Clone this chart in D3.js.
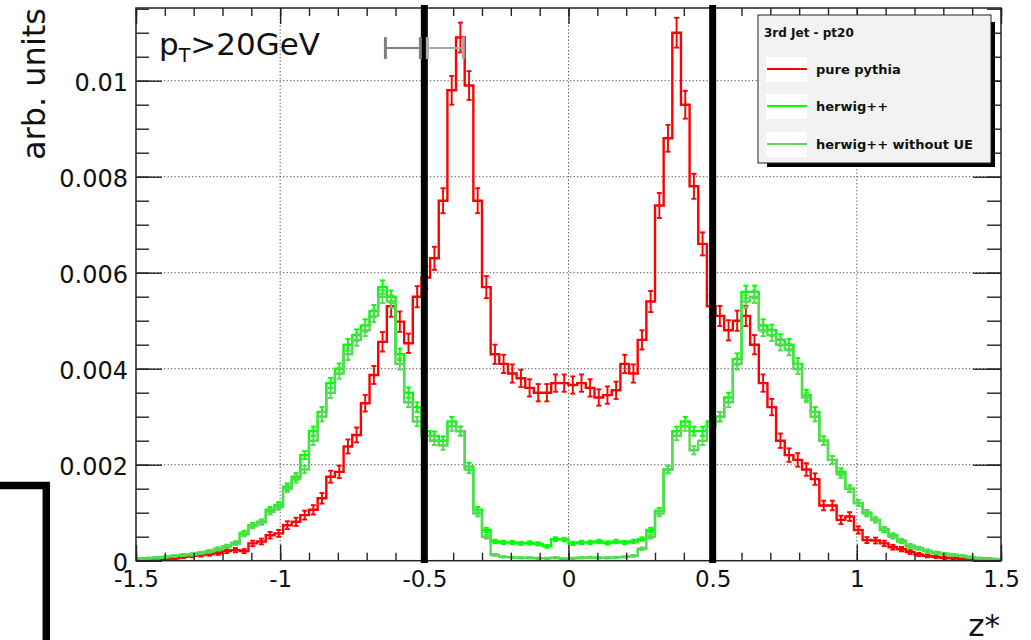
<!DOCTYPE html>
<meta charset="utf-8">
<script src="https://d3js.org/d3.v7.min.js"></script>
<style>
  body { margin: 0; background: #fff; }
  svg { display: block; font-family: "DejaVu Sans", sans-serif; }
</style>
<div id="my_dataviz"></div>
<script>

// binning of the z* histograms: 100 bins of 0.03 from -1.5 to 1.5
var binLow = -1.5, binWidth = 0.03, nBins = 100;

// pure pythia (red)
var pythia = [
  0.00002,0.00002,0.00003,0.00003,0.00005,0.00008,0.0001,0.00012,0.00014,0.00016,
  0.0002,0.00022,0.0002,0.00036,0.0004,0.00053,0.00057,0.00074,0.00081,0.00095,
  0.00106,0.0013,0.00175,0.00185,0.00238,0.00262,0.00328,0.00387,0.00456,0.0053,
  0.00498,0.00453,0.0055,0.0059,0.0063,0.0075,0.0098,0.0109,0.0099,0.0075,
  0.0057,0.0043,0.0041,0.0039,0.0038,0.0036,0.0035,0.0035,0.0037,0.0037,
  0.00366,0.0037,0.0036,0.0034,0.00345,0.00355,0.0041,0.0039,0.0046,0.0054,
  0.0074,0.0088,0.011,0.0095,0.0078,0.0066,0.0053,0.0051,0.0048,0.005,
  0.0051,0.0045,0.0037,0.0032,0.0025,0.0022,0.0021,0.0019,0.0017,0.00115,
  0.00115,0.00085,0.00092,0.00064,0.00043,0.00042,0.00036,0.00028,0.00024,0.00018,
  0.00013,0.0001,0.00008,0.00006,0.00005,0.00004,0.00003,0.00003,0.00002,0.00002];
var pythiaErr = [
  0.000013,0.000013,0.000016,0.000016,0.000021,0.000027,0.00003,0.000033,0.000035,0.000038,
  0.000042,0.000044,0.000042,0.000057,0.00006,0.000069,0.000072,0.000082,0.000085,0.000092,
  0.000098,0.00011,0.000125,0.00013,0.000146,0.000154,0.000172,0.000187,0.000203,0.000218,
  0.000212,0.000202,0.00022,0.00023,0.00024,0.00026,0.0003,0.00031,0.0003,0.00026,
  0.00023,0.0002,0.00019,0.00019,0.00018,0.00018,0.00018,0.00018,0.00018,0.00018,
  0.00018,0.00018,0.00018,0.00017,0.00018,0.00018,0.00019,0.00019,0.0002,0.00022,
  0.00026,0.00028,0.00031,0.00029,0.00026,0.00024,0.00022,0.00021,0.00021,0.00021,
  0.00021,0.0002,0.00018,0.00017,0.00015,0.00014,0.00014,0.00013,0.00012,0.0001,
  0.0001,0.000088,0.000091,0.000076,0.000062,0.000061,0.000057,0.00005,0.000046,0.00004,
  0.000034,0.00003,0.000027,0.000023,0.000021,0.000019,0.000016,0.000016,0.000013,0.000013];

// herwig++ (bright green)
var herwig = [
  0.00004,0.00005,0.00006,0.00008,0.0001,0.00012,0.00013,0.00016,0.00019,0.00025,
  0.0003,0.00037,0.00058,0.00074,0.00081,0.00106,0.00116,0.00154,0.00175,0.0022,
  0.0027,0.0031,0.0037,0.004,0.0045,0.0047,0.0049,0.0052,0.0057,0.0055,
  0.0043,0.0035,0.0032,0.0027,0.0026,0.0025,0.0029,0.0027,0.00196,0.00106,
  0.00064,0.0004,0.00038,0.00038,0.00036,0.00037,0.00035,0.0003,0.00045,0.00044,
  0.00036,0.00038,0.00038,0.0004,0.00037,0.0004,0.00038,0.0004,0.00045,0.00064,
  0.00104,0.0019,0.0027,0.0029,0.0027,0.0027,0.0029,0.003,0.0034,0.0042,
  0.0056,0.0056,0.0049,0.0048,0.0046,0.0045,0.0041,0.00345,0.0031,0.0025,
  0.0021,0.00185,0.0015,0.0012,0.001,0.00085,0.00064,0.00053,0.0004,0.0003,
  0.00026,0.0002,0.00016,0.00014,0.00012,0.0001,0.00007,0.00005,0.00004,0.00003];
var herwigErr = [
  0.000011,0.000013,0.000014,0.000016,0.000018,0.00002,0.000021,0.000023,0.000025,0.000028,
  0.000031,0.000035,0.000043,0.000049,0.000051,0.000059,0.000061,0.000071,0.000075,0.000084,
  0.000094,0.0001,0.00011,0.00011,0.00012,0.00012,0.00013,0.00013,0.00014,0.00013,
  0.00012,0.00011,0.0001,0.000095,0.000092,0.00009,0.000097,0.000094,0.00008,0.000059,
  0.000046,0.000036,0.000035,0.000035,0.000034,0.000035,0.000034,0.000031,0.000038,0.000038,
  0.000034,0.000035,0.000035,0.000036,0.000035,0.000036,0.000035,0.000036,0.000038,0.000046,
  0.000058,0.000078,0.000094,0.000097,0.000094,0.000094,0.000097,0.000099,0.0001,0.00012,
  0.00013,0.00013,0.00013,0.00012,0.00012,0.00012,0.00012,0.00011,0.0001,0.00009,
  0.000083,0.000077,0.00007,0.000062,0.000057,0.000052,0.000046,0.000041,0.000036,0.000031,
  0.000029,0.000025,0.000023,0.000021,0.00002,0.000018,0.000015,0.000013,0.000011,0.00001];

// herwig++ without UE (light green)
var noUE = [
  0.00004,0.00005,0.00006,0.00008,0.0001,0.00012,0.00013,0.00016,0.0002,0.00024,
  0.0003,0.00036,0.00055,0.00072,0.0008,0.00102,0.00112,0.0015,0.0017,0.0019,
  0.0025,0.003,0.0035,0.0039,0.0043,0.0046,0.0048,0.0051,0.0055,0.0054,
  0.0041,0.0033,0.0029,0.0026,0.0025,0.0024,0.0028,0.0027,0.0019,0.00098,
  0.0005,0.00012,0.00008,0.00007,0.00006,0.00006,0.00005,0.00005,0.00006,0.00004,
  0.00005,0.00006,0.00007,0.00006,0.00006,0.00007,0.00008,0.0001,0.00025,0.0005,
  0.00098,0.0019,0.0026,0.0028,0.0023,0.0025,0.0028,0.003,0.0033,0.0041,
  0.0054,0.0055,0.0048,0.0047,0.0045,0.0044,0.004,0.0034,0.003,0.0025,
  0.0021,0.0018,0.0015,0.0012,0.00098,0.00085,0.00066,0.0005,0.00042,0.00032,
  0.00026,0.00021,0.00017,0.00014,0.00012,0.0001,0.00007,0.00005,0.00004,0.00003];
var noUEErr = [
  0.000011,0.000013,0.000014,0.000016,0.000018,0.00002,0.000021,0.000023,0.000025,0.000028,
  0.000031,0.000034,0.000042,0.000048,0.000051,0.000057,0.00006,0.00007,0.000074,0.000078,
  0.00009,0.000099,0.00011,0.00011,0.00012,0.00012,0.00012,0.00013,0.00013,0.00013,
  0.00012,0.0001,0.000097,0.000092,0.00009,0.000088,0.000095,0.000094,0.000078,0.000056,
  0.00004,0.00002,0.000016,0.000015,0.000014,0.000014,0.000013,0.000013,0.000014,0.000012,
  0.000013,0.000014,0.000015,0.000014,0.000014,0.000015,0.000016,0.000018,0.000028,0.00004,
  0.000056,0.000078,0.000092,0.000095,0.000086,0.00009,0.000095,0.000099,0.0001,0.00012,
  0.00013,0.00013,0.00012,0.00012,0.00012,0.00012,0.00011,0.0001,0.000099,0.00009,
  0.000082,0.000076,0.00007,0.000062,0.000056,0.000052,0.000046,0.00004,0.000037,0.000032,
  0.000029,0.000026,0.000023,0.000021,0.00002,0.000018,0.000015,0.000013,0.000011,0.00001];

var seriesNames = ["pure pythia", "herwig++", "herwig++ without UE"];
var seriesColors = ["#ff0000", "#00ff00", "#55d955"];
var legendTitle = "3rd Jet - pt20";

// axis ticks
var xMajor = [-1.5, -1, -0.5, 0, 0.5, 1, 1.5];
var xGrid = [-1, -0.5, 0, 0.5, 1];
var yMajor = [0, 0.002, 0.004, 0.006, 0.008, 0.01];
var yGrid = [0.002, 0.004, 0.006, 0.008, 0.01];

// cut lines at |z*| = 0.5 and the grey resolution marker
var cuts = [-0.5, 0.5];
var markerX = -0.5, markerHalf = 0.135, markerY = 0.01068;

var W = 1031, H = 640;
var X0 = 136, X1 = 1001, Y0 = 560.7, Y1 = 8;

var svg = d3.select("#my_dataviz").append("svg")
  .attr("width", W).attr("height", H);

var x = d3.scaleLinear().domain([-1.5, 1.5]).range([X0, X1]);
var y = d3.scaleLinear().domain([0, 0.011515]).range([Y0, Y1]);

var edges = d3.range(nBins + 1).map(function(i) { return +(binLow + i * binWidth).toFixed(3); });

// grid
svg.append("g").selectAll("line").data(xGrid).enter().append("line")
  .attr("x1", function(d) { return x(d); }).attr("x2", function(d) { return x(d); })
  .attr("y1", Y1).attr("y2", Y0)
  .attr("stroke", "#555").attr("stroke-width", 1).attr("stroke-dasharray", "1.3,2.2");
svg.append("g").selectAll("line").data(yGrid).enter().append("line")
  .attr("x1", X0).attr("x2", X1)
  .attr("y1", function(d) { return y(d); }).attr("y2", function(d) { return y(d); })
  .attr("stroke", "#555").attr("stroke-width", 1).attr("stroke-dasharray", "1.3,2.2");

// histograms
var step = d3.line().x(function(d) { return x(d[0]); }).y(function(d) { return y(d[1]); })
  .curve(d3.curveStepAfter);

function drawHist(vals, errs, color) {
  var pts = vals.map(function(v, i) { return [edges[i], v]; });
  pts.push([edges[nBins], vals[nBins - 1]]);
  var g = svg.append("g");
  g.append("path").attr("d", step(pts))
    .attr("fill", "none").attr("stroke", color).attr("stroke-width", 2.4);
  var eb = g.selectAll("g").data(vals).enter().append("g")
    .attr("stroke", color).attr("stroke-width", 1.9);
  eb.each(function(v, i) {
    var cx = x(edges[i] + binWidth / 2);
    var lo = y(Math.max(v - errs[i], 0)), hi = y(v + errs[i]);
    var s = d3.select(this);
    s.append("line").attr("x1", cx).attr("x2", cx).attr("y1", lo).attr("y2", hi);
    s.append("line").attr("x1", cx - 2.5).attr("x2", cx + 2.5).attr("y1", lo).attr("y2", lo);
    s.append("line").attr("x1", cx - 2.5).attr("x2", cx + 2.5).attr("y1", hi).attr("y2", hi);
  });
}
drawHist(pythia, pythiaErr, seriesColors[0]);
drawHist(herwig, herwigErr, seriesColors[1]);
drawHist(noUE, noUEErr, seriesColors[2]);

// axes: ticks inside on all four sides
function styleAxis(g) {
  g.select(".domain").remove();
  g.selectAll("line").attr("stroke", "#222").attr("stroke-width", 1.4);
  g.selectAll("text").attr("fill", "#111").attr("font-family", "DejaVu Sans");
}
var xMinor = d3.range(31).map(function(i) { return +(-1.5 + i * 0.1).toFixed(1); });
var yMinor = d3.range(24).map(function(i) { return +(i * 0.0005).toFixed(4); });

svg.append("g").attr("transform", "translate(0," + Y0 + ")")
  .call(d3.axisBottom(x).tickValues(xMinor).tickSizeInner(-8).tickSizeOuter(0).tickFormat(""))
  .call(styleAxis);
svg.append("g").attr("transform", "translate(0," + Y0 + ")")
  .call(d3.axisBottom(x).tickValues(xMajor).tickSizeInner(-16).tickSizeOuter(0).tickPadding(10)
    .tickFormat(function(d) { return String(d); }))
  .call(styleAxis)
  .selectAll("text").attr("font-size", 23);
svg.append("g").attr("transform", "translate(0," + Y1 + ")")
  .call(d3.axisTop(x).tickValues(xMinor).tickSizeInner(-8).tickSizeOuter(0).tickFormat(""))
  .call(styleAxis);
svg.append("g").attr("transform", "translate(0," + Y1 + ")")
  .call(d3.axisTop(x).tickValues(xMajor).tickSizeInner(-16).tickSizeOuter(0).tickFormat(""))
  .call(styleAxis);

svg.append("g").attr("transform", "translate(" + X0 + ",0)")
  .call(d3.axisLeft(y).tickValues(yMinor).tickSizeInner(-13).tickSizeOuter(0).tickFormat(""))
  .call(styleAxis);
svg.append("g").attr("transform", "translate(" + X0 + ",0)")
  .call(d3.axisLeft(y).tickValues(yMajor).tickSizeInner(-26).tickSizeOuter(0).tickPadding(8)
    .tickFormat(function(d) { return String(+d.toFixed(3)); }))
  .call(styleAxis)
  .selectAll("text").attr("font-size", 24).attr("dy", "0.4em");
svg.append("g").attr("transform", "translate(" + X1 + ",0)")
  .call(d3.axisRight(y).tickValues(yMinor).tickSizeInner(-14).tickSizeOuter(0).tickFormat(""))
  .call(styleAxis);
svg.append("g").attr("transform", "translate(" + X1 + ",0)")
  .call(d3.axisRight(y).tickValues(yMajor).tickSizeInner(-28).tickSizeOuter(0).tickFormat(""))
  .call(styleAxis);

// frame
svg.append("rect").attr("x", X0).attr("y", Y1).attr("width", X1 - X0).attr("height", Y0 - Y1)
  .attr("fill", "none").attr("stroke", "#222").attr("stroke-width", 1.5);

// thick cut lines
svg.append("g").selectAll("line").data(cuts).enter().append("line")
  .attr("x1", function(d) { return x(d); }).attr("x2", function(d) { return x(d); })
  .attr("y1", 5).attr("y2", 563)
  .attr("stroke", "#000").attr("stroke-width", 7);

// grey horizontal error marker
var mk = svg.append("g").attr("stroke-width", 2);
var mL = x(markerX - markerHalf), mC = x(markerX), mR = x(markerX + markerHalf), mY = y(markerY);
[[mL, mC - 4, "#7f7f7f"], [mC + 3, mR, "#a9a9a9"]].forEach(function(s) {
  mk.append("line").attr("x1", s[0]).attr("x2", s[1]).attr("y1", mY).attr("y2", mY).attr("stroke", s[2]);
  [s[0], s[1]].forEach(function(px) {
    mk.append("line").attr("x1", px).attr("x2", px).attr("y1", mY - 11).attr("y2", mY + 11)
      .attr("stroke", s[2]).attr("stroke-width", 3);
  });
});

// legend
var lg = svg.append("g");
lg.append("rect").attr("x", 767).attr("y", 163).attr("width", 228).attr("height", 4).attr("fill", "#000");
lg.append("rect").attr("x", 991).attr("y", 22).attr("width", 4).attr("height", 145).attr("fill", "#000");
lg.append("rect").attr("x", 758).attr("y", 15).attr("width", 233).attr("height", 148)
  .attr("fill", "#f2f2f2").attr("stroke", "#222").attr("stroke-width", 1);
lg.append("text").attr("x", 764).attr("y", 37).attr("font-size", 12).attr("font-weight", "bold")
  .attr("fill", "#111").text(legendTitle);
var entryY = [69, 106, 144];
seriesNames.forEach(function(name, i) {
  lg.append("rect").attr("x", 766).attr("y", entryY[i] - 12).attr("width", 41).attr("height", 25).attr("fill", "#fff");
  lg.append("line").attr("x1", 767).attr("x2", 807).attr("y1", entryY[i]).attr("y2", entryY[i])
    .attr("stroke", seriesColors[i]).attr("stroke-width", 2);
  lg.append("text").attr("x", 816).attr("y", entryY[i] + 5).attr("font-size", 13).attr("font-weight", "bold")
    .attr("fill", "#111").text(name);
});

// titles
var pt = svg.append("text").attr("x", 159).attr("y", 55).attr("font-size", 31).attr("fill", "#111");
pt.append("tspan").text("p");
pt.append("tspan").attr("font-size", 19).attr("dy", 7).text("T");
pt.append("tspan").attr("dy", -7).text(">20GeV");

svg.append("text").attr("transform", "translate(45,8) rotate(-90)")
  .attr("text-anchor", "end").attr("font-size", 32).attr("fill", "#111").text("arb. units");
svg.append("text").attr("x", 1000).attr("y", 636).attr("text-anchor", "end")
  .attr("font-size", 31).attr("fill", "#111").text("z*");

// stray black corner at the bottom left of the picture
svg.append("path").attr("d", "M0,485.5H46.3V640")
  .attr("fill", "none").attr("stroke", "#000").attr("stroke-width", 7.5);

</script>
